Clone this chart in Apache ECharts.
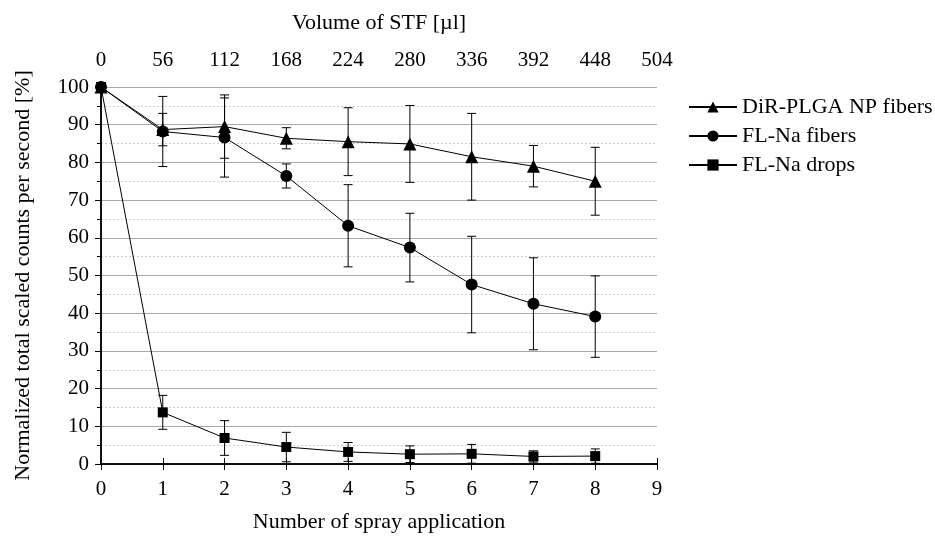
<!DOCTYPE html>
<html>
<head>
<meta charset="utf-8">
<script src="https://cdn.jsdelivr.net/npm/echarts@6/dist/echarts.min.js"></script>
<style>html,body{margin:0;padding:0;background:#fff;}#c{width:935px;height:538px;}</style>
</head>
<body>
<div id="c"></div>
<script>
var sprays = [0, 1, 2, 3, 4, 5, 6, 7, 8];
var dirFibers = [100, 88.7, 89.5, 86.4, 85.5, 84.9, 81.5, 79.0, 75.0];
var dirFibersErr = [0, 4.3, 8.4, 2.8, 9.0, 10.2, 11.5, 5.5, 9.0];
var flFibers = [100, 88.2, 86.6, 76.4, 63.2, 57.4, 47.6, 42.5, 39.1];
var flFibersErr = [0, 9.3, 10.5, 3.2, 10.9, 9.1, 12.8, 12.2, 10.8];
var flDrops = [100, 13.7, 6.9, 4.5, 3.2, 2.6, 2.7, 2.0, 2.1];
var flDropsErr = [0, 4.5, 4.6, 3.9, 2.5, 2.2, 2.5, 1.5, 1.9];
var seriesNames = ['DiR-PLGA NP fibers', 'FL-Na fibers', 'FL-Na drops'];
var volumePerSpray = 56;

var FONT = '"Liberation Serif", "DejaVu Serif", serif';
var chart = echarts.init(document.getElementById('c'), null, {renderer: 'canvas'});

function pts(vals) { return sprays.map(function (x, i) { return [x, vals[i]]; }); }
function errPts(vals, errs) {
  var out = [];
  sprays.forEach(function (x, i) { if (errs[i] > 0) out.push([x, vals[i] - errs[i], vals[i] + errs[i]]); });
  return out;
}
function errSeries(vals, errs) {
  return {
    type: 'custom',
    xAxisIndex: 0, yAxisIndex: 0,
    silent: true,
    z: 3,
    data: errPts(vals, errs),
    renderItem: function (params, api) {
      var x = api.value(0);
      var lo = api.coord([x, api.value(1)]);
      var hi = api.coord([x, api.value(2)]);
      var hw = 4.5;
      var st = {stroke: '#000', lineWidth: 1};
      return {
        type: 'group',
        children: [
          {type: 'line', shape: {x1: lo[0], y1: lo[1], x2: hi[0], y2: hi[1]}, style: st},
          {type: 'line', shape: {x1: lo[0] - hw, y1: lo[1], x2: lo[0] + hw, y2: lo[1]}, style: st},
          {type: 'line', shape: {x1: hi[0] - hw, y1: hi[1], x2: hi[0] + hw, y2: hi[1]}, style: st}
        ]
      };
    }
  };
}
function lineSeries(name, vals, symbol, size) {
  return {
    name: name, type: 'line', xAxisIndex: 0, yAxisIndex: 0,
    data: pts(vals), symbol: symbol, symbolSize: size,
    z: 4,
    lineStyle: {color: '#000', width: 1},
    itemStyle: {color: '#000', borderWidth: 0},
    showSymbol: true
  };
}

var axisLine = {show: true, lineStyle: {color: '#000', width: 1.5}};
var labelStyle = {color: '#000', fontFamily: FONT, fontSize: 21};
var nameStyle = {color: '#000', fontFamily: FONT, fontSize: 22};

chart.setOption({
  animation: false,
  backgroundColor: '#fff',
  grid: {left: 101, top: 87, width: 556, height: 377, containLabel: false},
  legend: {
    orient: 'vertical', left: 683, top: 91,
    itemWidth: 48, itemHeight: 14, itemGap: 7,
    textStyle: {color: '#000', fontFamily: FONT, fontSize: 22},
    data: seriesNames
  },
  xAxis: [
    {
      type: 'value', position: 'bottom', min: 0, max: 9, interval: 1,
      name: 'Number of spray application', nameLocation: 'middle', nameGap: 47,
      nameTextStyle: nameStyle,
      axisLine: axisLine,
      axisTick: {show: true, inside: false, length: 6, lineStyle: {color: '#000', width: 1}},
      axisLabel: Object.assign({margin: 15}, labelStyle),
      splitLine: {show: false}
    },
    {
      type: 'value', position: 'top', min: 0, max: 9, interval: 1,
      name: 'Volume of STF [\u00b5l]', nameLocation: 'middle', nameGap: 53,
      nameTextStyle: nameStyle,
      axisLine: axisLine,
      axisTick: {show: true, inside: false, length: 6, lineStyle: {color: '#000', width: 1}},
      axisLabel: Object.assign({margin: 16, formatter: function (v) { return String(Math.round(v * volumePerSpray)); }}, labelStyle),
      splitLine: {show: false}
    }
  ],
  yAxis: [
    {
      type: 'value', position: 'left', min: 0, max: 100, interval: 10,
      name: 'Normalized total scaled counts per second [%]', nameLocation: 'middle', nameGap: 67,
      nameTextStyle: nameStyle,
      axisLine: axisLine,
      axisTick: {show: true, inside: false, length: 6, lineStyle: {color: '#000', width: 1}},
      minorTick: {show: true, splitNumber: 2, length: 4, lineStyle: {color: '#000', width: 1}},
      axisLabel: Object.assign({margin: 12}, labelStyle),
      splitLine: {show: true, lineStyle: {color: '#a8a8a8', width: 1}},
      minorSplitLine: {show: true, lineStyle: {color: '#cfcfcf', width: 1, type: [2, 2]}}
    },
    {
      type: 'value', position: 'right', min: 0, max: 100,
      axisLine: axisLine,
      axisTick: {show: false}, axisLabel: {show: false}, splitLine: {show: false}
    }
  ],
  series: [
    errSeries(dirFibers, dirFibersErr),
    errSeries(flFibers, flFibersErr),
    errSeries(flDrops, flDropsErr),
    lineSeries(seriesNames[0], dirFibers, 'triangle', 13),
    lineSeries(seriesNames[1], flFibers, 'circle', 12),
    lineSeries(seriesNames[2], flDrops, 'rect', 10)
  ]
});
</script>
</body>
</html>
